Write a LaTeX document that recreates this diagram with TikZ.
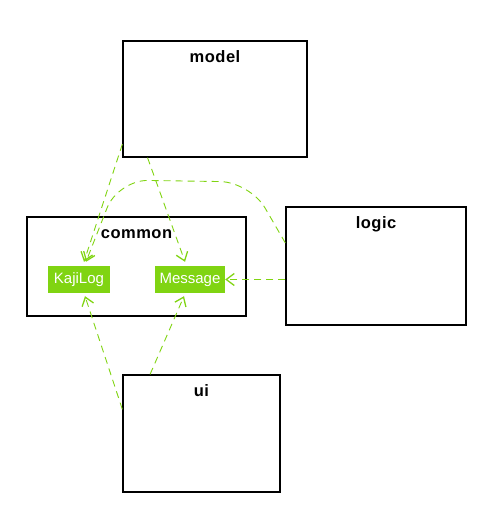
\documentclass[tikz,border=0pt]{standalone}
\usepackage{fontspec}
\setsansfont{Liberation Sans}
\newfontfamily\pkgfont[LetterSpace=3]{Liberation Sans Bold}
\usetikzlibrary{arrows.meta,calc}
\definecolor{kgreen}{RGB}{128,212,18}
\tikzset{pkg/.style={draw, line width=1.3pt, rectangle, inner sep=0pt},
  pkgtitle/.style={inner sep=0pt, anchor=base, font=\pkgfont\fontsize{16.5}{18}\selectfont},
  cls/.style={fill=kgreen, text=white, rectangle, inner sep=0pt,
    minimum height=27pt, font=\sffamily\fontsize{15}{17}\selectfont},
  dep/.style={draw=kgreen, line width=0.9pt, dash pattern=on 7pt off 5pt, ->}}

\begin{document}
\begin{tikzpicture}[x=1pt, y=-1pt,
  >={Straight Barb[length=8pt, width=12pt, line width=1.3pt]}]
  \useasboundingbox (0,0) rectangle (477,505);
  % packages
  \node[pkg, minimum width=184pt, minimum height=116pt] (model) at (215,99) {};
  \node[pkg, minimum width=219pt, minimum height=99pt] (common) at (136.5,266.5) {};
  \node[pkg, minimum width=180pt, minimum height=118pt] (logic) at (376,266) {};
  \node[pkg, minimum width=157pt, minimum height=117pt] (ui) at (201.5,433.5) {};
  \node[pkgtitle] (modelT) at ([yshift=-22.5pt]model.north) {model};
  \node[pkgtitle] (commonT) at ([yshift=-22.5pt]common.north) {common};
  \node[pkgtitle] (logicT) at ([yshift=-22.5pt]logic.north) {logic};
  \node[pkgtitle] (uiT) at ([yshift=-22.5pt]ui.north) {ui};
  % classes in common
  \node[cls, minimum width=62pt] (kaji) at (79,279.5) {KajiLog};
  \node[cls, minimum width=70pt] (msg) at (190,279.5) {Message};
  % dependencies
  \draw[dep] (model.206) -- ([xshift=5pt, yshift=4pt]kaji.north);
  \draw[dep] (model.221) -- ([xshift=-5pt, yshift=4pt]msg.north);
  \draw[dep, rounded corners=30pt] (logic.west |- 0,243) -- (250,182) -- (118,180)
    -- ([xshift=7pt, yshift=4pt]kaji.north);
  \draw[dep] (logic.west |- msg.east) -- (msg.east);
  \draw[dep] (ui.163) -- ([xshift=6pt, yshift=-3pt]kaji.south);
  \draw[dep] (ui.131) -- ([xshift=-6pt, yshift=-3pt]msg.south);
\end{tikzpicture}
\end{document}
